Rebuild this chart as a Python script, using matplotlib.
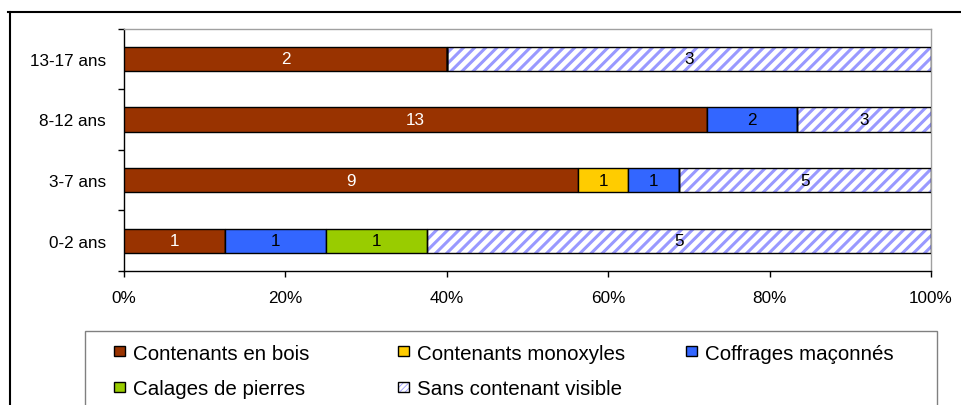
import matplotlib
matplotlib.use("Agg")
import matplotlib.pyplot as plt
import numpy as np
from matplotlib.patches import Rectangle
from matplotlib.lines import Line2D

plt.rcParams['font.family'] = ['Liberation Sans', 'DejaVu Sans']
plt.rcParams['hatch.linewidth'] = 2.2

categories = ["0-2 ans", "3-7 ans", "8-12 ans", "13-17 ans"]
series_names = ["Contenants en bois", "Contenants monoxyles", "Coffrages maçonnés",
                "Calages de pierres", "Sans contenant visible"]
contenants_bois = [1, 9, 13, 2]
contenants_monoxyles = [0, 1, 0, 0]
coffrages_maconnes = [1, 1, 2, 0]
calages_pierres = [1, 0, 0, 0]
sans_contenant = [5, 5, 3, 3]
xtick_labels = ["0%", "20%", "40%", "60%", "80%", "100%"]

colors = ["#993300", "#FFCC00", "#3366FF", "#99CC00", "white"]
hatch_color = "#9999FF"
text_colors = ["white", "black", "black", "black", "black"]

series = [contenants_bois, contenants_monoxyles, coffrages_maconnes,
          calages_pierres, sans_contenant]
counts = np.array(series, dtype=float)
totals = counts.sum(axis=0)
shares = counts / totals * 100

W, H = 961, 406
fig = plt.figure(figsize=(W / 100, H / 100), dpi=100)
ax = fig.add_axes([124 / W, 1 - 272 / H, (931 - 124) / W, (272 - 29.5) / H])

y = np.arange(len(categories))
left = np.zeros(len(categories))
bar_h = 0.4
for i, (name, vals) in enumerate(zip(series_names, shares)):
    if i == 4:
        ax.barh(y, vals, left=left, height=bar_h, color="white",
                edgecolor=hatch_color, hatch="///", linewidth=0, zorder=2)
        ax.barh(y, vals, left=left, height=bar_h, fill=False,
                edgecolor="black", linewidth=1.0, zorder=3)
    else:
        ax.barh(y, vals, left=left, height=bar_h, color=colors[i],
                edgecolor="black", linewidth=1.0, zorder=3)
    for j in range(len(categories)):
        if counts[i, j] > 0:
            ax.text(left[j] + vals[j] / 2, y[j], f"{int(counts[i, j])}",
                    ha="center", va="center", fontsize=12.3,
                    color=text_colors[i], zorder=4)
    left = left + vals

ax.set_xlim(0, 100)
ax.set_ylim(-0.5, len(categories) - 0.5)
ax.set_xticks(np.arange(0, 101, 20))
ax.set_xticklabels(xtick_labels, fontsize=12.3)
ax.set_yticks(y)
ax.set_yticklabels(categories, fontsize=12.3)
ax.set_yticks(np.arange(-0.5, len(categories), 1), minor=True)
ax.tick_params(axis="y", which="major", length=0, pad=13)
ax.tick_params(axis="y", which="minor", length=4, direction="out", width=1)
ax.tick_params(axis="x", which="major", length=4, direction="out", width=1, pad=10)
for s in ["top", "right"]:
    ax.spines[s].set_color("#A0A0A0")
    ax.spines[s].set_linewidth(1.0)
for s in ["left", "bottom"]:
    ax.spines[s].set_color("black")
    ax.spines[s].set_linewidth(1.0)

# outer chart frame
fig.add_artist(Line2D([8 / W, 1], [1 - 13 / H, 1 - 13 / H], color="black", lw=1.5))
fig.add_artist(Line2D([10 / W, 10 / W], [0, 1 - 13 / H], color="black", lw=1.5))

# legend box
fig.add_artist(Rectangle((85 / W, -0.05), (937 - 85) / W, 1 - 332 / H + 0.05,
                         transform=fig.transFigure, fill=False,
                         edgecolor="#808080", lw=1.0))
leg_pos = [(114, 352), (398, 352), (686, 352), (114, 388), (398, 388)]
for i, name in enumerate(series_names):
    px, py = leg_pos[i]
    sq = 10.5
    if i == 4:
        fig.add_artist(Rectangle((px / W, 1 - (py + sq / 2) / H), sq / W, sq / H,
                                 transform=fig.transFigure, facecolor=hatch_color,
                                 edgecolor="white", hatch="//////", lw=0))
        fig.add_artist(Rectangle((px / W, 1 - (py + sq / 2) / H), sq / W, sq / H,
                                 transform=fig.transFigure, fill=False,
                                 edgecolor="black", lw=1.0))
    else:
        fig.add_artist(Rectangle((px / W, 1 - (py + sq / 2) / H), sq / W, sq / H,
                                 transform=fig.transFigure, facecolor=colors[i],
                                 edgecolor="black", lw=1.0))
    fig.text((px + 19) / W, 1 - py / H, name, fontsize=14.8, ha="left", va="center_baseline")

fig.savefig("out.png", dpi=100)
